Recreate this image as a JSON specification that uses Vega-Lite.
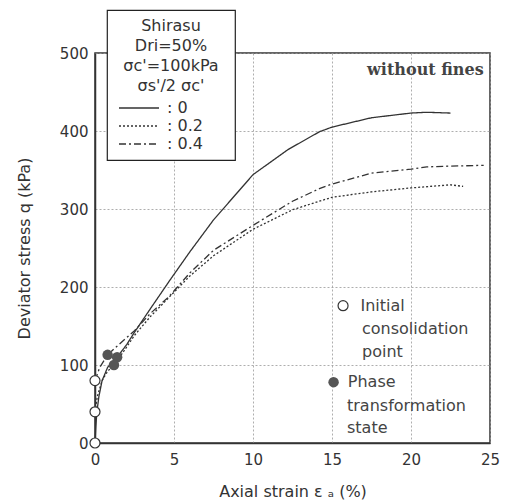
{
  "$schema": "https://vega.github.io/schema/vega-lite/v6.json",
  "width": 395,
  "height": 390,
  "autosize": {"type": "none"},
  "padding": {"left": 95, "top": 53, "right": 17, "bottom": 58},
  "background": "white",
  "config": {
    "view": {"stroke": "#333", "strokeWidth": 1.5},
    "axis": {
      "domainColor": "#333", "domainWidth": 1.5,
      "gridColor": "#999", "gridDash": [2, 2], "gridWidth": 0.8,
      "ticks": false, "labelFlush": false,
      "labelFont": "DejaVu Sans", "labelFontSize": 15, "labelColor": "#333",
      "titleFont": "DejaVu Sans", "titleFontSize": 16, "titleFontWeight": "normal", "titleColor": "#333"
    },
    "legend": {
      "orient": "none", "legendX": 12, "legendY": -43,
      "fillColor": "white", "strokeColor": "#222", "strokeWidth": 1.2, "padding": 8,
      "titleFont": "DejaVu Sans", "titleFontSize": 16, "titleFontWeight": "normal", "titleColor": "#333",
      "titleAnchor": "middle", "titleAlign": "center", "titleLineHeight": 20, "titlePadding": 6, "titleLimit": 300,
      "labelFont": "DejaVu Sans", "labelFontSize": 16, "labelColor": "#333", "labelOffset": 35, "labelLimit": 300,
      "symbolType": "M-1,0H7", "symbolSize": 100, "symbolStrokeWidth": 1.3, "symbolStrokeColor": "#333",
      "symbolFillColor": "transparent", "symbolOffset": 1, "rowPadding": 2
    }
  },
  "datasets": {
    "curves": [
      {"series": "0", "x": 0, "q": 0},
      {"series": "0", "x": 0.05, "q": 20},
      {"series": "0", "x": 0.12, "q": 40},
      {"series": "0", "x": 0.25, "q": 60},
      {"series": "0", "x": 0.45, "q": 80},
      {"series": "0", "x": 0.8, "q": 97},
      {"series": "0", "x": 1.4, "q": 110},
      {"series": "0", "x": 2, "q": 126},
      {"series": "0", "x": 2.5, "q": 142},
      {"series": "0", "x": 3.5, "q": 172},
      {"series": "0", "x": 4.75, "q": 209},
      {"series": "0", "x": 6, "q": 245},
      {"series": "0", "x": 7.5, "q": 286},
      {"series": "0", "x": 10, "q": 344},
      {"series": "0", "x": 12.2, "q": 376},
      {"series": "0", "x": 14.2, "q": 399},
      {"series": "0", "x": 15, "q": 405},
      {"series": "0", "x": 17.5, "q": 417},
      {"series": "0", "x": 20, "q": 423},
      {"series": "0", "x": 21, "q": 424},
      {"series": "0", "x": 22.5, "q": 423},
      {"series": "0.2", "x": 0, "q": 40},
      {"series": "0.2", "x": 0.15, "q": 60},
      {"series": "0.2", "x": 0.45, "q": 80},
      {"series": "0.2", "x": 0.8, "q": 92},
      {"series": "0.2", "x": 1.2, "q": 100},
      {"series": "0.2", "x": 1.8, "q": 117},
      {"series": "0.2", "x": 2.5, "q": 138},
      {"series": "0.2", "x": 3.5, "q": 162},
      {"series": "0.2", "x": 4.6, "q": 185},
      {"series": "0.2", "x": 6, "q": 214},
      {"series": "0.2", "x": 7.5, "q": 240},
      {"series": "0.2", "x": 10, "q": 274},
      {"series": "0.2", "x": 12.5, "q": 299},
      {"series": "0.2", "x": 14.2, "q": 310},
      {"series": "0.2", "x": 15, "q": 315},
      {"series": "0.2", "x": 17.5, "q": 322},
      {"series": "0.2", "x": 20, "q": 327},
      {"series": "0.2", "x": 22.5, "q": 331},
      {"series": "0.2", "x": 23.3, "q": 329},
      {"series": "0.4", "x": 0, "q": 80},
      {"series": "0.4", "x": 0.3, "q": 97},
      {"series": "0.4", "x": 0.8, "q": 113},
      {"series": "0.4", "x": 1.5, "q": 126},
      {"series": "0.4", "x": 2.5, "q": 144},
      {"series": "0.4", "x": 3.5, "q": 166},
      {"series": "0.4", "x": 4.7, "q": 188},
      {"series": "0.4", "x": 6, "q": 218},
      {"series": "0.4", "x": 7.5, "q": 247},
      {"series": "0.4", "x": 10, "q": 279},
      {"series": "0.4", "x": 12.5, "q": 310},
      {"series": "0.4", "x": 14.2, "q": 326},
      {"series": "0.4", "x": 15, "q": 332},
      {"series": "0.4", "x": 17.5, "q": 346},
      {"series": "0.4", "x": 20, "q": 351},
      {"series": "0.4", "x": 21, "q": 354},
      {"series": "0.4", "x": 22.5, "q": 355},
      {"series": "0.4", "x": 24.6, "q": 356}
    ],
    "open": [
      {"x": 0, "q": 0},
      {"x": 0, "q": 40},
      {"x": 0, "q": 80},
      {"x": 15.7, "q": 176}
    ],
    "filled": [
      {"x": 0.8, "q": 113},
      {"x": 1.4, "q": 110},
      {"x": 1.2, "q": 100},
      {"x": 15.1, "q": 78}
    ],
    "notes": [
      {"x": 16.8, "q": 176, "t": "Initial"},
      {"x": 16.9, "q": 146, "t": "consolidation"},
      {"x": 16.9, "q": 117, "t": "point"},
      {"x": 16.0, "q": 78, "t": "Phase"},
      {"x": 15.95, "q": 47, "t": "transformation"},
      {"x": 15.95, "q": 19, "t": "state"}
    ],
    "tag": [
      {"x": 24.6, "q": 478, "t": "without fines"}
    ]
  },
  "layer": [
    {
      "data": {"name": "curves"},
      "mark": {"type": "line", "color": "#333", "strokeWidth": 1.3},
      "encoding": {
        "x": {
          "field": "x", "type": "quantitative",
          "scale": {"domain": [0, 25], "nice": false, "zero": false},
          "axis": {
            "values": [0, 2.5, 5, 7.5, 10, 12.5, 15, 17.5, 20, 22.5, 25],
            "labelExpr": "datum.value % 5 === 0 ? datum.label : ''",
            "grid": true, "labelPadding": 9, "titlePadding": 16,
            "title": "Axial strain  ε ₐ (%)"
          }
        },
        "y": {
          "field": "q", "type": "quantitative",
          "scale": {"domain": [0, 500], "nice": false, "zero": false},
          "axis": {
            "values": [0, 50, 100, 150, 200, 250, 300, 350, 400, 450, 500],
            "labelExpr": "datum.value % 100 === 0 ? datum.label : ''",
            "grid": true, "labelPadding": 7, "titlePadding": 27,
            "title": "Deviator stress  q  (kPa)"
          }
        },
        "strokeDash": {
          "field": "series", "type": "nominal",
          "scale": {"domain": ["0", "0.2", "0.4"], "range": [[1, 0], [2, 2], [7, 3, 2, 3]]},
          "legend": {
            "title": ["Shirasu", "Dri=50%", "σc'=100kPa", "σs'/2 σc'"],
            "labelExpr": "': ' + datum.label + '\u2800\u2800'"
          }
        }
      }
    },
    {
      "data": {"name": "filled"},
      "mark": {"type": "point", "shape": "circle", "filled": true, "color": "#555", "size": 110, "opacity": 1},
      "encoding": {
        "x": {"field": "x", "type": "quantitative"},
        "y": {"field": "q", "type": "quantitative"}
      }
    },
    {
      "data": {"name": "open"},
      "mark": {"type": "point", "shape": "circle", "filled": false, "fill": "white", "fillOpacity": 1, "stroke": "#333", "strokeWidth": 1.2, "size": 100, "opacity": 1},
      "encoding": {
        "x": {"field": "x", "type": "quantitative"},
        "y": {"field": "q", "type": "quantitative"}
      }
    },
    {
      "data": {"name": "notes"},
      "mark": {"type": "text", "align": "left", "baseline": "middle", "font": "DejaVu Sans", "fontSize": 16, "color": "#444"},
      "encoding": {
        "x": {"field": "x", "type": "quantitative"},
        "y": {"field": "q", "type": "quantitative"},
        "text": {"field": "t"}
      }
    },
    {
      "data": {"name": "tag"},
      "mark": {"type": "text", "align": "right", "baseline": "middle", "font": "DejaVu Serif", "fontWeight": "bold", "fontSize": 16, "color": "#444"},
      "encoding": {
        "x": {"field": "x", "type": "quantitative"},
        "y": {"field": "q", "type": "quantitative"},
        "text": {"field": "t"}
      }
    }
  ]
}
